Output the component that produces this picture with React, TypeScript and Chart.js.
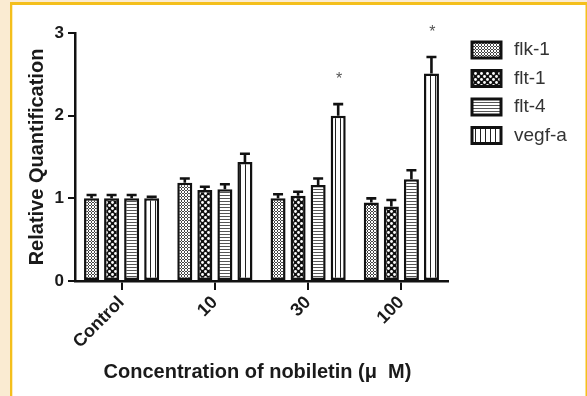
import React, { useEffect, useRef } from "react";
import { Chart, registerables } from "chart.js";

Chart.register(...registerables);

const categories = ["Control", "10", "30", "100"];
const seriesNames = ["flk-1", "flt-1", "flt-4", "vegf-a"];
const flk1 = [1.0, 1.19, 1.0, 0.95];
const flk1Err = [0.04, 0.05, 0.05, 0.05];
const flt1 = [1.0, 1.1, 1.03, 0.9];
const flt1Err = [0.04, 0.04, 0.05, 0.08];
const flt4 = [1.0, 1.11, 1.16, 1.23];
const flt4Err = [0.04, 0.06, 0.08, 0.11];
const vegfa = [1.0, 1.44, 2.0, 2.51];
const vegfaErr = [0.02, 0.1, 0.14, 0.2];
const vegfaMarks = ["", "", "*", "*"];
const yTicks = [0, 1, 2, 3];
const xTitle = "Concentration of nobiletin (μ  M)";
const yTitle = "Relative Quantification";

const seriesValues = [flk1, flt1, flt4, vegfa];
const seriesErrors = [flk1Err, flt1Err, flt4Err, vegfaErr];

const FONT = "'Liberation Sans', Arial, Helvetica, sans-serif";

function makePattern(
  ctx: CanvasRenderingContext2D,
  w: number,
  h: number,
  draw: (g: CanvasRenderingContext2D) => void
) {
  const c = document.createElement("canvas");
  c.width = w;
  c.height = h;
  const g = c.getContext("2d")!;
  draw(g);
  return ctx.createPattern(c, "repeat")!;
}

export default function App() {
  const ref = useRef<HTMLCanvasElement | null>(null);

  useEffect(() => {
    document.body.style.margin = "0";
    const canvas = ref.current!;
    const ctx = canvas.getContext("2d")!;

    const pFlk = makePattern(ctx, 3, 3, (g) => {
      g.fillStyle = "#ffffff";
      g.fillRect(0, 0, 3, 3);
      g.fillStyle = "#444444";
      g.fillRect(1, 0, 1, 1);
      g.fillRect(0, 1, 1, 1);
      g.fillRect(2, 1, 1, 1);
      g.fillRect(1, 2, 1, 1);
    });
    const pFlt1 = makePattern(ctx, 6, 6, (g) => {
      g.fillStyle = "#111111";
      g.fillRect(0, 0, 6, 6);
      g.fillStyle = "#ffffff";
      g.beginPath();
      g.arc(1.5, 1.5, 1.4, 0, Math.PI * 2);
      g.fill();
      g.beginPath();
      g.arc(4.5, 4.5, 1.4, 0, Math.PI * 2);
      g.fill();
    });
    const pFlt4 = makePattern(ctx, 1, 3, (g) => {
      g.fillStyle = "#ffffff";
      g.fillRect(0, 0, 1, 3);
      g.fillStyle = "#555555";
      g.fillRect(0, 0, 1, 1);
    });
    const pVegf = makePattern(ctx, 5, 1, (g) => {
      g.fillStyle = "#ffffff";
      g.fillRect(0, 0, 5, 1);
      g.fillStyle = "#222222";
      g.fillRect(0, 0, 1, 1);
    });
    const patterns = [pFlk, pFlt1, pFlt4, pVegf];

    const framePlugin = {
      id: "frame",
      beforeDraw(chart: any) {
        const c = chart.ctx;
        c.save();
        c.fillStyle = "#FAEBD2";
        c.fillRect(0, 0, 587, 396);
        c.fillStyle = "#ffffff";
        c.fillRect(10, 2, 577, 394);
        c.fillStyle = "#F4BF1C";
        c.fillRect(10, 2, 2.3, 394);
        c.fillRect(10, 2, 577, 3);
        c.fillRect(585.5, 2, 1.5, 394);
        c.restore();
      },
    };

    const errorPlugin = {
      id: "errorbars",
      afterDatasetsDraw(chart: any) {
        const c = chart.ctx;
        const y = chart.scales.y;
        c.save();
        c.strokeStyle = "#111111";
        c.lineWidth = 2.6;
        chart.data.datasets.forEach((ds: any, i: number) => {
          const meta = chart.getDatasetMeta(i);
          meta.data.forEach((bar: any, j: number) => {
            const v = ds.data[j];
            const e = seriesErrors[i][j];
            const top = y.getPixelForValue(v + e);
            c.beginPath();
            c.moveTo(bar.x, bar.y);
            c.lineTo(bar.x, top);
            c.moveTo(bar.x - 5, top);
            c.lineTo(bar.x + 5, top);
            c.stroke();
            if (i === 3 && vegfaMarks[j]) {
              c.fillStyle = "#555555";
              c.font = `16px ${FONT}`;
              c.textAlign = "center";
              c.textBaseline = "alphabetic";
              c.fillText(vegfaMarks[j], bar.x + 1, top - 29 + 9);
            }
          });
        });
        c.restore();
      },
    };

    const titlePlugin = {
      id: "xTitleCustom",
      afterDraw(chart: any) {
        const c = chart.ctx;
        const a = chart.chartArea;
        c.save();
        c.fillStyle = "#1a1a1a";
        c.font = `bold 20px ${FONT}`;
        c.textAlign = "center";
        c.textBaseline = "middle";
        c.fillText(xTitle, (a.left + a.right) / 2 - 4, 372);
        c.restore();
      },
    };

    const legendPlugin = {
      id: "customLegend",
      afterDraw(chart: any) {
        const c = chart.ctx;
        c.save();
        chart.data.datasets.forEach((ds: any, i: number) => {
          const cy = 50 + i * 28.5;
          c.fillStyle = ds.backgroundColor;
          c.fillRect(472, cy - 8, 29, 16);
          c.strokeStyle = "#111111";
          c.lineWidth = 3;
          c.strokeRect(472, cy - 8, 29, 16);
          c.fillStyle = "#333333";
          c.font = `19px ${FONT}`;
          c.textAlign = "left";
          c.textBaseline = "middle";
          c.fillText(ds.label, 514, cy);
        });
        c.restore();
      },
    };

    const chart = new Chart(canvas, {
      type: "bar",
      data: {
        labels: categories,
        datasets: seriesNames.map((name, i) => ({
          label: name,
          data: seriesValues[i],
          backgroundColor: patterns[i] as any,
          borderColor: "#111111",
          borderWidth: 2.5,
          borderSkipped: false,
          barPercentage: 0.75,
          categoryPercentage: 0.86,
        })),
      },
      options: {
        animation: false,
        responsive: false,
        devicePixelRatio: 1,
        layout: { padding: { left: 12, right: 139, top: 33, bottom: 0 } },
        plugins: {
          legend: { display: false },
          tooltip: { enabled: false },
        },
        scales: {
          x: {
            type: "category",
            offset: true,
            grid: {
              display: true,
              drawOnChartArea: false,
              drawTicks: true,
              tickLength: 9,
              offset: false,
              color: "#111111",
              lineWidth: 2,
            },
            border: { display: true, color: "#111111", width: 2.5 },
            ticks: {
              color: "#1a1a1a",
              font: { family: FONT, size: 18, weight: "bold" },
              minRotation: 45,
              maxRotation: 45,
              padding: 2,
              autoSkip: false,
            },
            title: { display: false },
            afterFit(s: any) {
              s.height = 115;
              s.paddingLeft = 0;
              s.paddingRight = 0;
            },
          } as any,
          y: {
            min: 0,
            max: 3,
            afterBuildTicks(s: any) {
              s.ticks = yTicks.map((v) => ({ value: v }));
            },
            grid: {
              display: true,
              drawOnChartArea: false,
              drawTicks: true,
              tickLength: 7,
              color: "#111111",
              lineWidth: 2,
            },
            border: { display: true, color: "#111111", width: 2.5 },
            ticks: {
              color: "#1a1a1a",
              font: { family: FONT, size: 17, weight: "bold" },
              padding: 4,
            },
            title: {
              display: true,
              text: yTitle,
              color: "#1a1a1a",
              font: { family: FONT, size: 20, weight: "bold" },
              padding: { top: 13, bottom: 0 },
            },
            afterFit(s: any) {
              s.width = 63;
              s.paddingTop = 0;
              s.paddingBottom = 0;
            },
          } as any,
        },
      },
      plugins: [framePlugin, errorPlugin, titlePlugin, legendPlugin],
    });

    return () => chart.destroy();
  }, []);

  return (
    <canvas
      ref={ref}
      width={587}
      height={396}
      style={{ position: "fixed", left: 0, top: 0, width: 587, height: 396, display: "block" }}
    />
  );
}
